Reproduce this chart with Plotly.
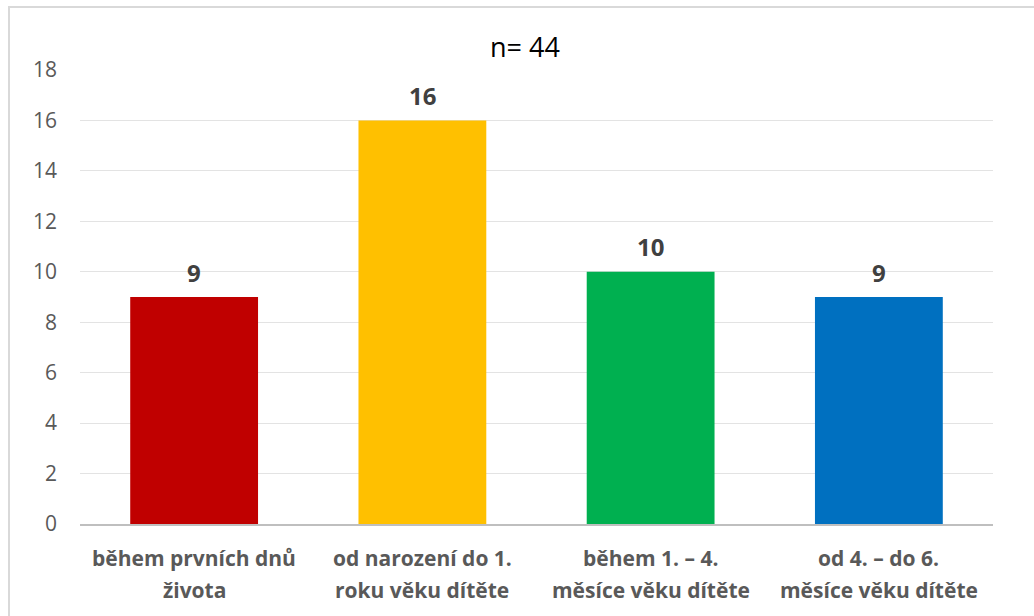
import plotly.graph_objects as go

# Categories split into two label lines, with counts per category
label_line1 = ["během prvních dnů", "od narození do 1.", "během 1. – 4.", "od 4. – do 6."]
label_line2 = ["života", "roku věku dítěte", "měsíce věku dítěte", "měsíce věku dítěte"]
counts = [9, 16, 10, 9]
bar_colors = ["#C00000", "#FFC000", "#00B050", "#0070C0"]
y_ticks = [0, 2, 4, 6, 8, 10, 12, 14, 16, 18]
title_text = "n= 44"

FONT = "Open Sans, Noto Sans, sans-serif"
x_pos = list(range(len(counts)))

fig = go.Figure()
fig.add_trace(go.Bar(
    x=x_pos,
    y=counts,
    marker=dict(color=bar_colors, line=dict(width=0)),
    hoverinfo="skip",
))

annotations = []
# Value labels above each bar
for xi, v in zip(x_pos, counts):
    annotations.append(dict(
        x=xi, y=v, xref="x", yref="y", text=f"<b>{v}</b>", showarrow=False,
        yanchor="middle", yshift=25,
        font=dict(family=FONT, size=24, color="#404040"),
    ))
# Two-line category labels under the axis
for xi, l1, l2 in zip(x_pos, label_line1, label_line2):
    annotations.append(dict(
        x=xi, y=0, xref="x", yref="y", text=f"<b>{l1}</b>", showarrow=False,
        yanchor="middle", yshift=-34,
        font=dict(family=FONT, size=21, color="#595959"),
    ))
    annotations.append(dict(
        x=xi, y=0, xref="x", yref="y", text=f"<b>{l2}</b>", showarrow=False,
        yanchor="middle", yshift=-66,
        font=dict(family=FONT, size=21, color="#595959"),
    ))
# Chart title
annotations.append(dict(
    x=0.5, y=1.0, xref="paper", yref="paper", text=title_text, showarrow=False,
    yanchor="middle", yshift=24, xshift=-12,
    font=dict(family=FONT, size=27, color="#000000"),
))

fig.update_layout(
    width=1034, height=616,
    margin=dict(l=80, r=41, t=70, b=92),
    paper_bgcolor="white", plot_bgcolor="white",
    bargap=0.44,
    showlegend=False,
    annotations=annotations,
    xaxis=dict(
        range=[-0.5, len(counts) - 0.5],
        showticklabels=False, showgrid=False, zeroline=False,
        showline=True, linecolor="#BFBFBF", linewidth=2,
        ticks="", fixedrange=True,
    ),
    yaxis=dict(
        range=[0, 18], tickvals=y_ticks,
        tickfont=dict(family=FONT, size=21, color="#595959"),
        showgrid=True, gridcolor="#E3E3E3", gridwidth=1,
        zeroline=False, showline=False, ticks="", ticklabelstandoff=22,
    ),
    shapes=[dict(
        type="rect", xref="paper", yref="paper",
        x0=(9 - 80) / 913, x1=(1040 - 80) / 913,
        y0=(524 - 625) / 454, y1=(524 - 7) / 454,
        line=dict(color="#D9D9D9", width=2), layer="below",
    )],
)

fig.write_html("out.html")
